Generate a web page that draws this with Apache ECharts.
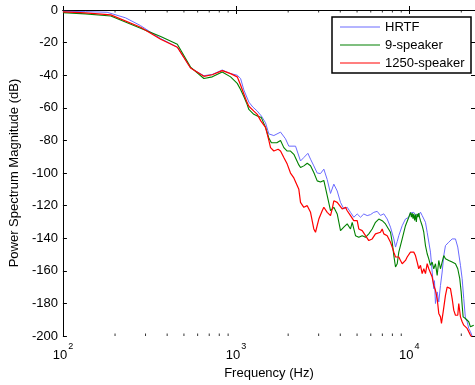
<!DOCTYPE html>
<html>
<head>
<meta charset="utf-8">
<script src="https://cdn.jsdelivr.net/npm/echarts@6/dist/echarts.min.js"></script>
<style>
  html, body { margin: 0; padding: 0; background: #fff; }
  #chart { width: 475px; height: 385px; }
</style>
</head>
<body>
<div id="chart"></div>
<script>
// Power spectra [frequency Hz, magnitude dB]
const hrtf = [
  [100,-0.8],[135,-1.0],[180,-1.4],[230,-4.8],[281,-9.6],[321,-13.6],[367,-17.5],[458,-22.8],
  [546,-35.6],[652,-40.3],[729,-39.5],[832,-36.8],[930,-39],[1016,-40],[1062,-42],[1109,-49],
  [1186,-56.5],[1250,-59.5],[1326,-62],[1400,-65],[1480,-69.2],[1547,-76],[1653,-77],[1807,-74.9],
  [1930,-79],[2017,-83.5],[2206,-83.5],[2357,-92.6],[2463,-90.5],[2600,-87.9],[2693,-91.5],
  [2813,-95.6],[2943,-100],[3075,-100.3],[3214,-97.6],[3362,-104],[3513,-112.5],[3671,-106.8],
  [3840,-111],[4012,-118],[4192,-122],[4386,-121],[4583,-124.1],[4788,-127.1],[5010,-125.1],
  [5234,-127.1],[5469,-125.1],[5722,-126.1],[5977,-125.5],[6245,-124.1],[6535,-123.5],[6829,-126],
  [7135,-125],[7466,-128.2],[7800,-133.2],[8153,-140.4],[8339,-145.4],[8529,-142],[8710,-138.4],
  [9113,-132.3],[9520,-128.2],[9947,-127.1],[10174,-124.5],[10407,-125.6],[10631,-124.1],
  [10874,-125.5],[11122,-124.5],[11362,-125.8],[11621,-124],[11889,-126.1],[12421,-130.2],
  [12704,-136.3],[13275,-148.5],[13578,-160.7],[13868,-170.9],[14000,-166],[14186,-180],[14513,-172.9],
  [14824,-179],[15162,-168.9],[15508,-160.7],[15842,-150.6],[16203,-144.5],[16929,-142.4],
  [17713,-140.4],[18506,-140.4],[19081,-145.4],[19779,-156.6],[20230,-164.8],[20665,-177],
  [21136,-189.2],[21620,-191.2],[22085,-195.3],[22590,-197.3],[23104,-200]
];

const nineSpeaker = [
  [100,-1.6],[135,-2.4],[189,-3.7],[281,-11.2],[367,-16.3],[458,-21],[546,-35],[652,-42],
  [729,-41],[832,-38],[930,-41],[1016,-45],[1062,-48.8],[1109,-53],[1150,-57],[1186,-61],
  [1267,-64],[1326,-65],[1400,-66],[1480,-72],[1547,-78.5],[1600,-81.4],[1720,-81.4],[1807,-80],
  [1888,-84.4],[1975,-86.5],[2063,-86.5],[2157,-88.5],[2305,-95],[2357,-96.6],[2463,-95.6],
  [2577,-94],[2693,-95.5],[2813,-99.7],[2943,-104.8],[3075,-105.5],[3214,-104.5],[3362,-113.9],
  [3513,-123.1],[3671,-121],[3840,-125.1],[4012,-135.3],[4192,-133.2],[4386,-131.2],[4583,-134.3],
  [4687,-130.2],[4898,-138.4],[5117,-139.4],[5354,-138.4],[5594,-139.4],[5845,-137.3],
  [6114,-134.3],[6388,-130.2],[6676,-128.2],[6985,-129.2],[7299,-131.2],[7466,-132.3],
  [7800,-136.3],[7980,-142.4],[8153,-150.6],[8339,-157.6],[8529,-155.6],[8710,-148.5],
  [9113,-140.4],[9520,-132.3],[9947,-127.1],[10174,-124.1],[10300,-127],[10407,-124.5],
  [10520,-128],[10631,-125],[10750,-129],[10874,-125.5],[11000,-130],[11122,-125],[11250,-127],
  [11362,-124.5],[11500,-127.5],[11621,-129.2],[11889,-132.3],[12144,-136.3],
  [12421,-144.5],[12704,-149.5],[12979,-152.6],[13275,-156.6],[13578,-154.6],[13868,-158.7],
  [14186,-155.6],[14513,-162.8],[14824,-153.6],[15162,-158.7],[15508,-158],[15842,-150.6],
  [16203,-152.6],[16929,-153.6],[17713,-154.6],[18506,-155.6],[19081,-158.7],[19599,-164.8],
  [19967,-172.9],[20230,-181.1],[20500,-188.2],[21136,-189.2],[21620,-188.2],[22085,-191.2],
  [22590,-194.3],[23104,-193.3],[23601,-193.3]
];

const speaker1250 = [
  [100,-1.2],[135,-1.8],[189,-3],[281,-10.6],[367,-17.9],[458,-22.8],[546,-35.6],[652,-40.7],
  [729,-39.7],[832,-37.2],[930,-39],[1016,-41],[1062,-46],[1109,-51.5],[1150,-56],[1186,-59],
  [1267,-62],[1326,-64],[1390,-68],[1480,-72],[1547,-80],[1582,-84.4],[1653,-86.5],[1750,-85.4],
  [1807,-86.5],[1888,-90.5],[1975,-94.5],[2063,-100],[2157,-103],[2206,-103],[2305,-110],
  [2357,-118],[2463,-121],[2577,-120],[2693,-124.1],[2813,-134.3],[2877,-136.3],[3007,-128.2],
  [3145,-123.1],[3214,-121],[3362,-124.1],[3513,-126.1],[3593,-122],[3671,-117],[3840,-118],
  [4104,-122],[4288,-121],[4386,-123.1],[4583,-126.1],[4788,-129.2],[5010,-129.2],[5117,-134.3],
  [5354,-135.3],[5594,-138.4],[5845,-141.4],[6114,-140.4],[6388,-137.3],[6535,-136.3],
  [6829,-136.3],[6985,-134.3],[7135,-137.3],[7466,-138.4],[7626,-139.4],[7800,-142.4],
  [7980,-145.4],[8153,-148.5],[8339,-151.5],[8529,-152.6],[8710,-151.5],[8909,-153.6],
  [9113,-155.6],[9308,-154.6],[9520,-153.6],[9738,-151.5],[9947,-150.6],[10174,-148.5],
  [10407,-149.5],[10631,-148.5],[10874,-150.6],[11122,-154.6],[11362,-158.7],[11621,-156.6],
  [11889,-161.7],[12144,-158.7],[12421,-161.7],[12704,-155.6],[12979,-158.7],[13578,-163.8],
  [13868,-168.9],[14186,-171.9],[14513,-177],[14824,-186.1],[15162,-188.2],[15366,-192.2],
  [15716,-185.1],[16203,-175],[16574,-169.9],[17318,-170.9],[17713,-177],[18093,-184.1],
  [18506,-187.2],[19081,-187.2],[19337,-180],[19779,-188.2],[20230,-191.2],[20665,-193.3],
  [21620,-195.3],[22590,-199.4],[23104,-201]
];

const seriesNames = ['HRTF', '9-speaker', '1250-speaker'];
const seriesColors = ['#6a6aff', '#008000', '#ff0000'];
const seriesWidths = [1, 1.1, 1.2];

// frequency axis range and minor tick positions (2..9 per decade)
const freqMin = 100;
const freqMax = 24000;
const minorTicksX = [200,300,400,500,600,700,800,900,2000,3000,4000,5000,6000,7000,8000,9000,20000];

// magnitude axis range
const dbMin = -200;
const dbMax = 0;
const dbStep = 20;

const FONT = 'Liberation Sans, Arial, sans-serif';

const chart = echarts.init(document.getElementById('chart'), null, { renderer: 'canvas' });

const axisLine = { show: true, lineStyle: { color: '#000', width: 1 } };

function powLabel(v) {
  const e = Math.log10(v);
  if (Math.abs(e - Math.round(e)) > 1e-6) return '';
  return '{b|10}{s|' + Math.round(e) + '}';
}

function tickMarks(yVal, dir) {
  return {
    type: 'scatter',
    data: minorTicksX.map(f => [f, yVal]),
    symbol: 'rect',
    symbolSize: [1, 2.5],
    symbolOffset: [0, dir * 1.25],
    itemStyle: { color: '#000' },
    silent: true,
    clip: false,
    z: 10,
    xAxisIndex: 0,
    yAxisIndex: 0
  };
}

// boxed legend: sample line + series name per row
const legendBox = { x: 332, y: 17, w: 139, h: 56 };
const legendChildren = [{
  type: 'rect',
  shape: { x: legendBox.x, y: legendBox.y, width: legendBox.w, height: legendBox.h },
  style: { fill: '#fff', stroke: '#000', lineWidth: 1.5 }
}];
seriesNames.forEach((name, i) => {
  const cy = legendBox.y + 10 + i * 18;
  legendChildren.push({
    type: 'line',
    shape: { x1: legendBox.x + 8, y1: cy, x2: legendBox.x + 48, y2: cy },
    style: { stroke: seriesColors[i], lineWidth: seriesWidths[i] }
  });
  legendChildren.push({
    type: 'text',
    x: legendBox.x + 53, y: cy,
    style: { text: name, fill: '#000', font: '13px ' + FONT, verticalAlign: 'middle', align: 'left' }
  });
});

chart.setOption({
  backgroundColor: '#fff',
  animation: false,
  grid: { left: 62, right: 0, top: 10, bottom: 47, containLabel: false },
  xAxis: [
    {
      type: 'log', logBase: 10, min: freqMin, max: freqMax, position: 'bottom',
      axisLine, splitLine: { show: false },
      axisTick: { show: true, inside: true, length: 4, lineStyle: { color: '#000' } },
      axisLabel: {
        show: true, margin: 6, showMaxLabel: false, formatter: powLabel,
        rich: {
          b: { fontSize: 13, color: '#000', fontFamily: FONT, verticalAlign: 'bottom', lineHeight: 20 },
          s: { fontSize: 9, color: '#000', fontFamily: FONT, verticalAlign: 'top', lineHeight: 20, padding: [0, 0, 0, 1] }
        }
      },
      name: 'Frequency (Hz)', nameLocation: 'middle', nameGap: 29,
      nameTextStyle: { fontSize: 13, color: '#000', fontFamily: FONT }
    },
    {
      type: 'log', logBase: 10, min: freqMin, max: freqMax, position: 'top',
      axisLine, splitLine: { show: false },
      axisTick: { show: true, inside: true, length: 4, lineStyle: { color: '#000' } },
      axisLabel: { show: false }
    }
  ],
  yAxis: [
    {
      type: 'value', min: dbMin, max: dbMax, interval: dbStep, position: 'left',
      axisLine, splitLine: { show: false },
      axisTick: { show: true, inside: true, length: 4, lineStyle: { color: '#000' } },
      axisLabel: { show: true, margin: 5, fontSize: 13, color: '#000', fontFamily: FONT },
      name: 'Power Spectrum Magnitude (dB)', nameLocation: 'middle', nameGap: 32,
      nameTextStyle: { fontSize: 13, color: '#000', fontFamily: FONT }
    },
    {
      type: 'value', min: dbMin, max: dbMax, interval: dbStep, position: 'right',
      axisLine, splitLine: { show: false },
      axisTick: { show: true, inside: true, length: 4, lineStyle: { color: '#000' } },
      axisLabel: { show: false }
    }
  ],
  graphic: [{ type: 'group', z: 20, children: legendChildren }],
  series: [
    ...seriesNames.map((name, i) => ({
      name, type: 'line', data: [hrtf, nineSpeaker, speaker1250][i],
      showSymbol: false, symbol: 'none',
      lineStyle: { color: seriesColors[i], width: seriesWidths[i] },
      itemStyle: { color: seriesColors[i] }
    })),
    tickMarks(dbMin, -1),
    tickMarks(dbMax, 1)
  ]
});
</script>
</body>
</html>
